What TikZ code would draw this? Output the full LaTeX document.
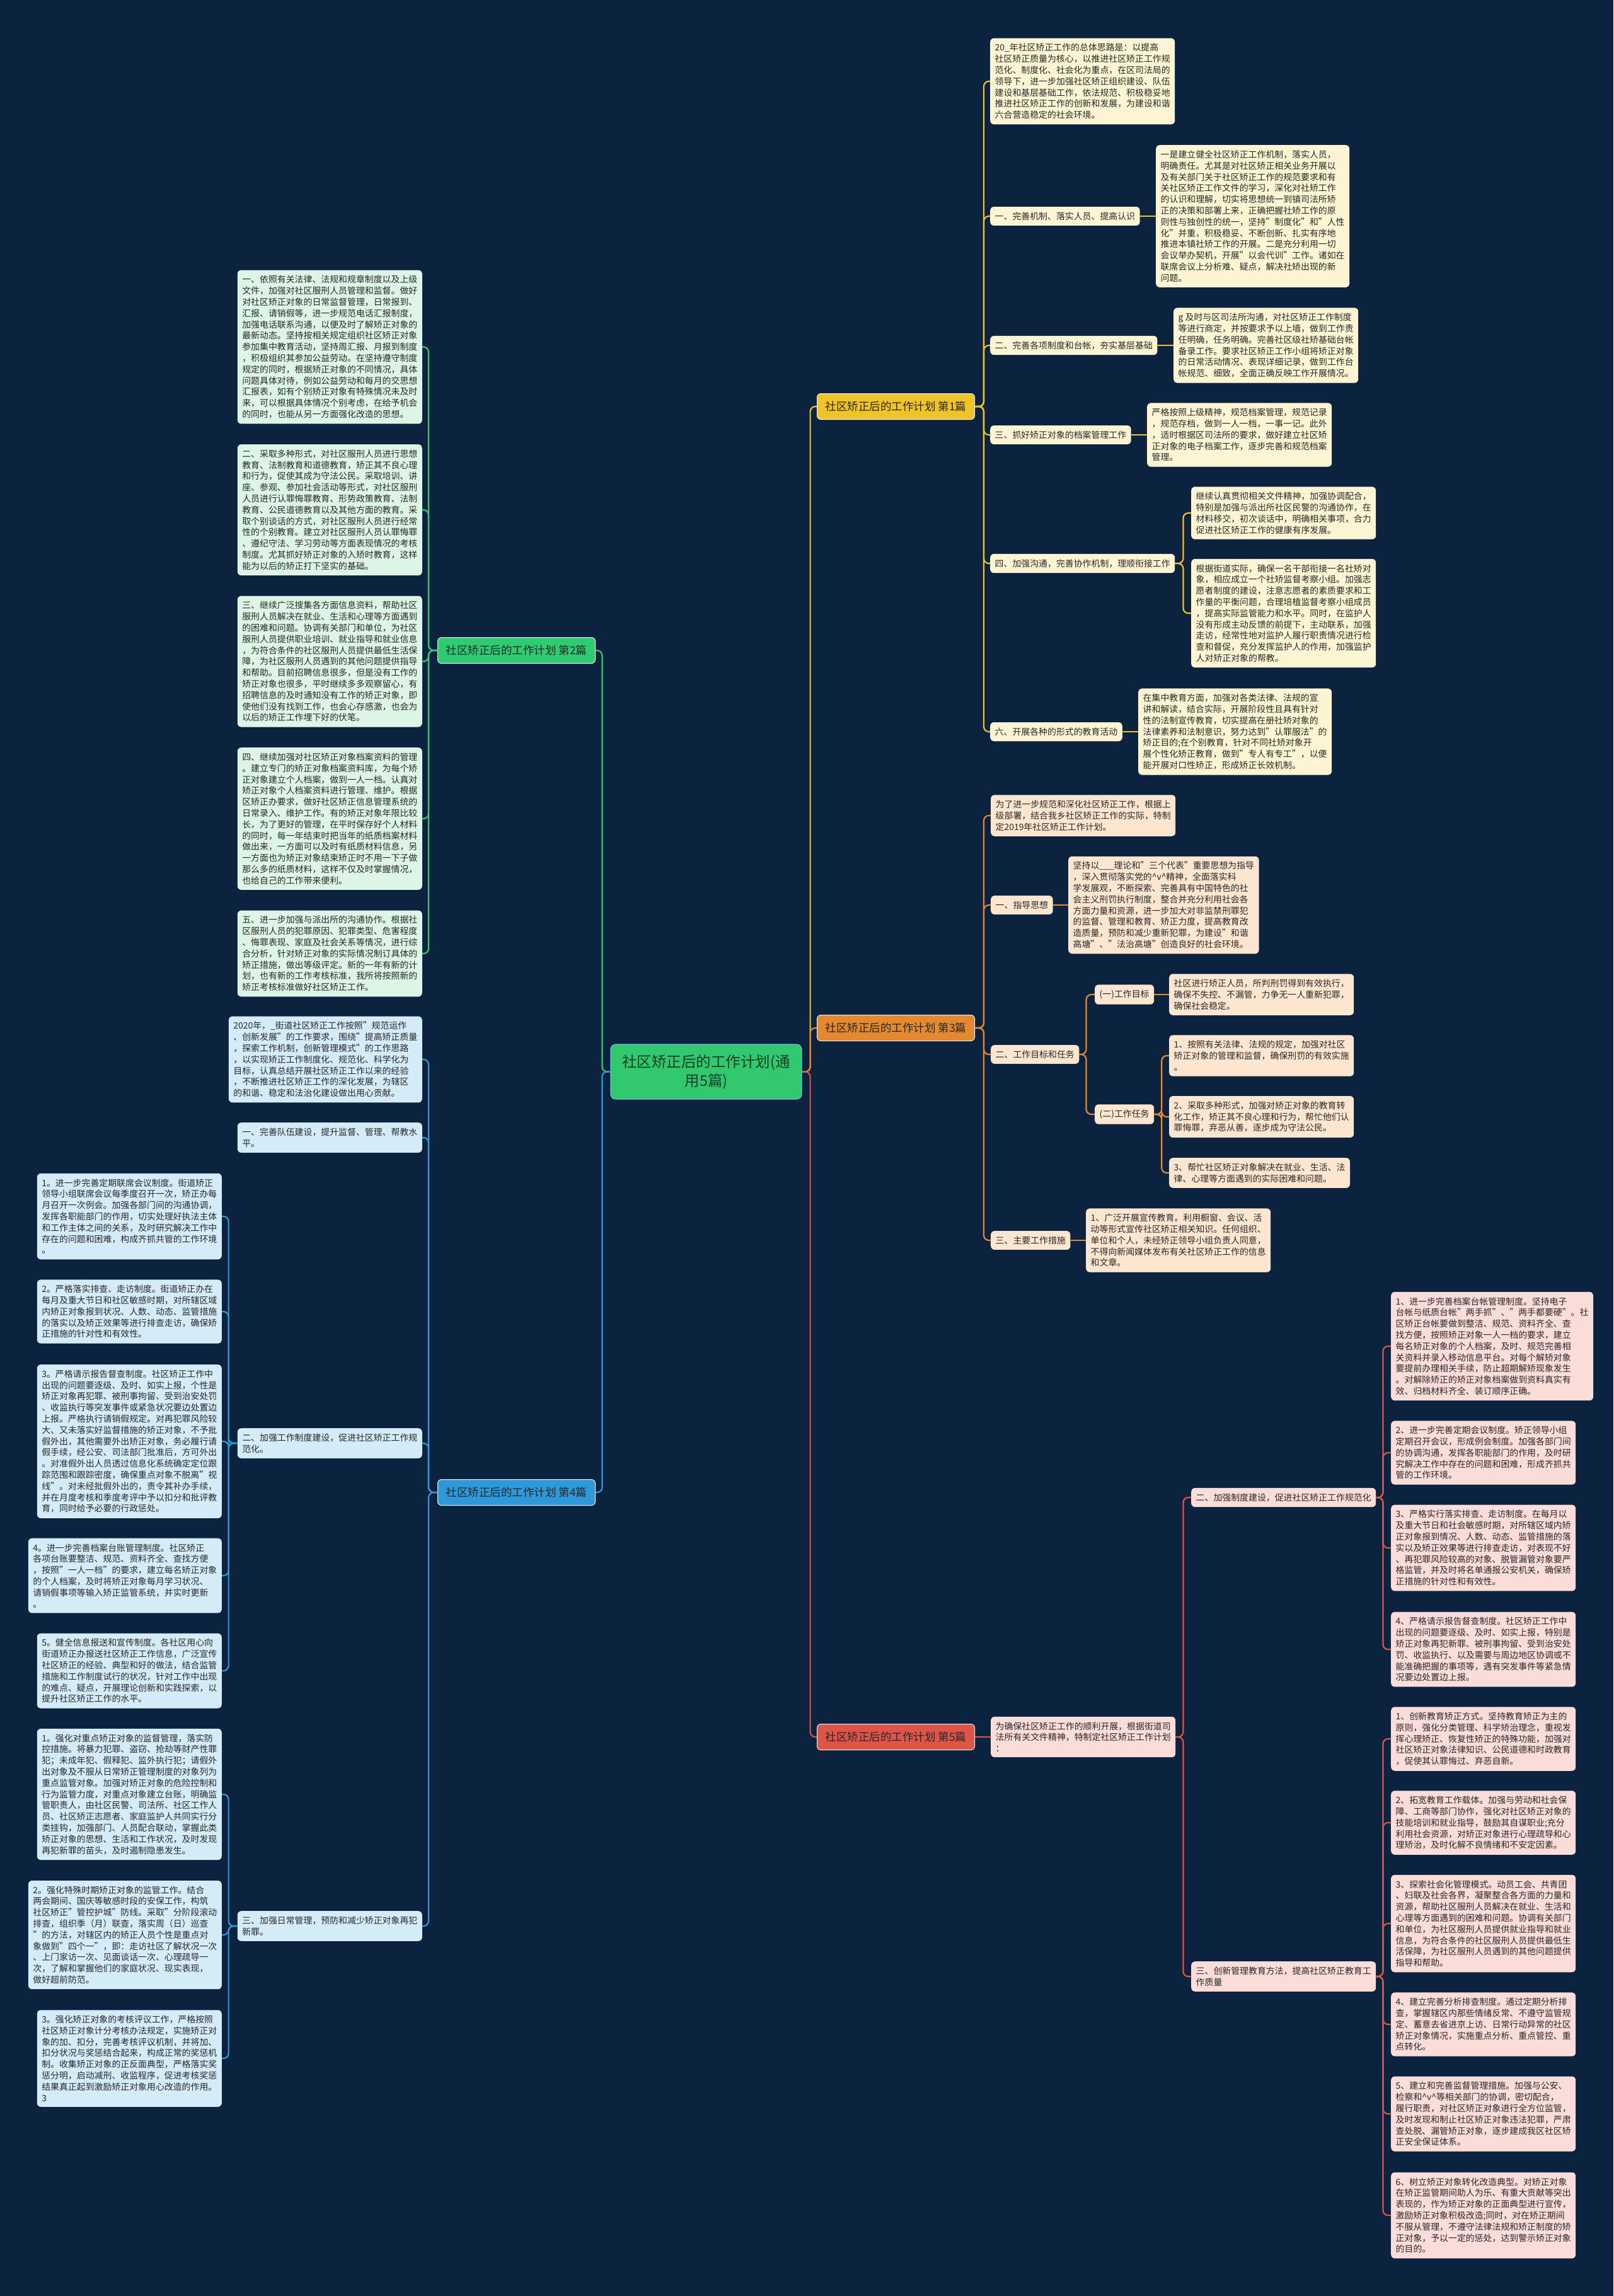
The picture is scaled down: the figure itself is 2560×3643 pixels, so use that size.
\documentclass[tikz,border=0pt]{standalone}
\usepackage{fontspec}
\setmainfont{Noto Sans CJK SC}
\usetikzlibrary{calc}
\definecolor{bgnavy}{RGB}{12,35,64}
\definecolor{rootgreen}{RGB}{50,200,110}
\definecolor{rootink}{RGB}{25,62,40}
\definecolor{ink}{RGB}{40,40,40}
\definecolor{yelline}{RGB}{240,196,40}
\definecolor{yelbox}{RGB}{252,244,210}
\definecolor{grnline}{RGB}{46,204,113}
\definecolor{grnbox}{RGB}{220,245,228}
\definecolor{orgline}{RGB}{228,137,48}
\definecolor{orgbox}{RGB}{252,230,208}
\definecolor{bluline}{RGB}{45,152,218}
\definecolor{blubox}{RGB}{212,235,248}
\definecolor{redline}{RGB}{222,84,72}
\definecolor{redbox}{RGB}{250,220,216}

\tikzset{
  leaf/.style={rounded corners=6pt, inner xsep=7.5pt, inner ysep=8.5pt,
    align=left, text=ink, font=\fontsize{13.9}{17.8}\selectfont},
  topic/.style={rounded corners=6pt, minimum width=250pt, minimum height=41pt,
    inner sep=0pt, draw=white!85!gray, line width=1pt, text=ink,
    font=\fontsize{17.5}{20}\selectfont},
  link/.style={line width=2.2pt, rounded corners=8pt},
}

\begin{document}
\begin{tikzpicture}[x=1pt,y=-1pt]
  % background
  \fill[bgnavy] (0,0) rectangle (2560,3643);

  % centre and the five plans
  \node[rounded corners=8pt, fill=rootgreen, draw=bluline!70!white, line width=1.2pt,
    text=rootink, align=center, minimum width=303pt, minimum height=87pt,
    font=\fontsize{23.5}{30}\selectfont] (root) at (1120.5,1700.5)
    {社区矫正后的工作计划(通\\用5篇)};
  \node[topic, fill=yelline, anchor=west] (t1) at (1296,645) {社区矫正后的工作计划 第1篇};
  \node[topic, fill=grnline, anchor=east] (t2) at (945,1032) {社区矫正后的工作计划 第2篇};
  \node[topic, fill=orgline, anchor=west] (t3) at (1296,1631) {社区矫正后的工作计划 第3篇};
  \node[topic, fill=bluline, anchor=east] (t4) at (945,2368) {社区矫正后的工作计划 第4篇};
  \node[topic, fill=redline, anchor=west] (t5) at (1296,2756) {社区矫正后的工作计划 第5篇};

  \draw[link, yelline] (root.east) -- ++(13,0) |- (t1.west);
  \draw[link, orgline] (root.east) -- ++(13,0) |- (t3.west);
  \draw[link, redline] (root.east) -- ++(13,0) |- (t5.west);
  \draw[link, grnline] (root.west) -- ++(-13,0) |- (t2.east);
  \draw[link, bluline] (root.west) -- ++(-13,0) |- (t4.east);

  % plan 1
  \begin{scope}[every node/.style={leaf, fill=yelbox, anchor=west}]
    \node (a1) at (1571,129) {20\_年社区矫正工作的总体思路是：以提高\\社区矫正质量为核心，以推进社区矫正工作规\\范化、制度化、社会化为重点，在区司法局的\\领导下，进一步加强社区矫正组织建设、队伍\\建设和基层基础工作，依法规范、积极稳妥地\\推进社区矫正工作的创新和发展，为建设和谐\\六合营造稳定的社会环境。};
    \node (l1) at (1571,343) {一、完善机制、落实人员、提高认识};
    \node (b1) at (1834,343) {一是建立健全社区矫正工作机制，落实人员，\\明确责任。尤其是对社区矫正相关业务开展以\\及有关部门关于社区矫正工作的规范要求和有\\关社区矫正工作文件的学习，深化对社矫工作\\的认识和理解，切实将思想统一到镇司法所矫\\正的决策和部署上来，正确把握社矫工作的原\\则性与独创性的统一，坚持"制度化"和"人性\\化"并重，积极稳妥、不断创新、扎实有序地\\推进本镇社矫工作的开展。二是充分利用一切\\会议举办契机，开展"以会代训"工作。诸如在\\联席会议上分析难、疑点，解决社矫出现的新\\问题。};
    \node (l2) at (1571,548) {二、完善各项制度和台帐，夯实基层基础};
    \node (b2) at (1862,548) {g 及时与区司法所沟通，对社区矫正工作制度\\等进行商定，并按要求予以上墙，做到工作责\\任明确，任务明确。完善社区级社矫基础台帐\\备录工作。要求社区矫正工作小组将矫正对象\\的日常活动情况、表现详细记录，做到工作台\\帐规范、细致，全面正确反映工作开展情况。};
    \node (l3) at (1571,690) {三、抓好矫正对象的档案管理工作};
    \node (b3) at (1820,690) {严格按照上级精神，规范档案管理，规范记录\\，规范存档，做到一人一档，一事一记。此外\\，适时根据区司法所的要求，做好建立社区矫\\正对象的电子档案工作，逐步完善和规范档案\\管理。};
    \node (l4) at (1571,894) {四、加强沟通，完善协作机制，理顺衔接工作};
    \node (b4a) at (1890,814) {继续认真贯彻相关文件精神，加强协调配合，\\特别是加强与派出所社区民警的沟通协作，在\\材料移交，初次谈话中，明确相关事项，合力\\促进社区矫正工作的健康有序发展。};
    \node (b4b) at (1890,973) {根据街道实际，确保一名干部衔接一名社矫对\\象，相应成立一个社矫监督考察小组。加强志\\愿者制度的建设，注意志愿者的素质要求和工\\作量的平衡问题，合理培植监督考察小组成员\\，提高实际监管能力和水平。同时，在监护人\\没有形成主动反馈的前提下，主动联系，加强\\走访，经常性地对监护人履行职责情况进行检\\查和督促，充分发挥监护人的作用，加强监护\\人对矫正对象的帮教。};
    \node (l6) at (1571,1161) {六、开展各种的形式的教育活动};
    \node (b6) at (1806,1161) {在集中教育方面，加强对各类法律、法规的宣\\讲和解读，结合实际，开展阶段性且具有针对\\性的法制宣传教育，切实提高在册社矫对象的\\法律素养和法制意识，努力达到"认罪服法"的\\矫正目的;在个别教育，针对不同社矫对象开\\展个性化矫正教育，做到"专人有专工"，以便\\能开展对口性矫正，形成矫正长效机制。};
  \end{scope}
  \foreach \c in {a1,l1,l2,l3,l4,l6}
    \draw[link, yelline] (t1.east) -- ++(14,0) |- (\c.west);
  \foreach \p/\c in {l1/b1,l2/b2,l3/b3,l6/b6}
    \draw[link, yelline] (\p.east) -- (\c.west);
  \foreach \c in {b4a,b4b}
    \draw[link, yelline] (l4.east) -- ++(13,0) |- (\c.west);

  % plan 2
  \begin{scope}[every node/.style={leaf, fill=grnbox, anchor=east}]
    \node (c1) at (670,550.5) {一、依照有关法律、法规和规章制度以及上级\\文件，加强对社区服刑人员管理和监督。做好\\对社区矫正对象的日常监督管理，日常报到、\\汇报、请销假等，进一步规范电话汇报制度，\\加强电话联系沟通，以便及时了解矫正对象的\\最新动态。坚持按相关规定组织社区矫正对象\\参加集中教育活动，坚持周汇报、月报到制度\\，积极组织其参加公益劳动。在坚持遵守制度\\规定的同时，根据矫正对象的不同情况，具体\\问题具体对待，例如公益劳动和每月的交思想\\汇报表，如有个别矫正对象有特殊情况未及时\\来，可以根据具体情况个别考虑，在给予机会\\的同时，也能从另一方面强化改造的思想。};
    \node (c2) at (670,809) {二、采取多种形式，对社区服刑人员进行思想\\教育、法制教育和道德教育，矫正其不良心理\\和行为，促使其成为守法公民。采取培训、讲\\座、参观、参加社会活动等形式，对社区服刑\\人员进行认罪悔罪教育、形势政策教育、法制\\教育、公民道德教育以及其他方面的教育。采\\取个别谈话的方式，对社区服刑人员进行经常\\性的个别教育。建立对社区服刑人员认罪悔罪\\、遵纪守法、学习劳动等方面表现情况的考核\\制度。尤其抓好矫正对象的入矫时教育，这样\\能为以后的矫正打下坚实的基础。};
    \node (c3) at (670,1049.5) {三、继续广泛搜集各方面信息资料，帮助社区\\服刑人员解决在就业、生活和心理等方面遇到\\的困难和问题。协调有关部门和单位，为社区\\服刑人员提供职业培训、就业指导和就业信息\\，为符合条件的社区服刑人员提供最低生活保\\障，为社区服刑人员遇到的其他问题提供指导\\和帮助。目前招聘信息很多，但是没有工作的\\矫正对象也很多，平时继续多多观察留心，有\\招聘信息的及时通知没有工作的矫正对象，即\\使他们没有找到工作，也会心存感激，也会为\\以后的矫正工作埋下好的伏笔。};
    \node (c4) at (670,1299) {四、继续加强对社区矫正对象档案资料的管理\\。建立专门的矫正对象档案资料库，为每个矫\\正对象建立个人档案，做到一人一档。认真对\\矫正对象个人档案资料进行管理、维护。根据\\区矫正办要求，做好社区矫正信息管理系统的\\日常录入、维护工作。有的矫正对象年限比较\\长，为了更好的管理，在平时保存好个人材料\\的同时，每一年结束时把当年的纸质档案材料\\做出来，一方面可以及时有纸质材料信息，另\\一方面也为矫正对象结束矫正时不用一下子做\\那么多的纸质材料，这样不仅及时掌握情况，\\也给自己的工作带来便利。};
    \node (c5) at (670,1513) {五、进一步加强与派出所的沟通协作。根据社\\区服刑人员的犯罪原因、犯罪类型、危害程度\\、悔罪表现、家庭及社会关系等情况，进行综\\合分析，针对矫正对象的实际情况制订具体的\\矫正措施，做出等级评定。新的一年有新的计\\划，也有新的工作考核标准，我所将按照新的\\矫正考核标准做好社区矫正工作。};
  \end{scope}
  \foreach \c in {c1,c2,c3,c4,c5}
    \draw[link, grnline] (t2.west) -- ++(-14,0) |- (\c.east);

  % plan 3
  \begin{scope}[every node/.style={leaf, fill=orgbox, anchor=west}]
    \node (a3) at (1572,1294) {为了进一步规范和深化社区矫正工作，根据上\\级部署，结合我乡社区矫正工作的实际，特制\\定2019年社区矫正工作计划。};
    \node (m1) at (1572,1436) {一、指导思想};
    \node (n1) at (1695,1436) {坚持以\_\_\_理论和"三个代表"重要思想为指导\\，深入贯彻落实党的\textasciicircum v\textasciicircum 精神，全面落实科\\学发展观，不断探索、完善具有中国特色的社\\会主义刑罚执行制度，整合并充分利用社会各\\方面力量和资源，进一步加大对非监禁刑罪犯\\的监督、管理和教育、矫正力度，提高教育改\\造质量，预防和减少重新犯罪，为建设"和谐\\高塘"、"法治高塘"创造良好的社会环境。};
    \node (m2) at (1572,1673) {二、工作目标和任务};
    \node (m2a) at (1737,1578) {(一)工作目标};
    \node (p1) at (1855,1578) {社区进行矫正人员，所判刑罚得到有效执行，\\确保不失控、不漏管，力争无一人重新犯罪，\\确保社会稳定。};
    \node (m2b) at (1737,1768) {(二)工作任务};
    \node (q1) at (1855,1675) {1、按照有关法律、法规的规定，加强对社区\\矫正对象的管理和监督，确保刑罚的有效实施\\。};
    \node (q2) at (1855,1772) {2、采取多种形式，加强对矫正对象的教育转\\化工作，矫正其不良心理和行为，帮忙他们认\\罪悔罪，弃恶从善，逐步成为守法公民。};
    \node (q3) at (1855,1861) {3、帮忙社区矫正对象解决在就业、生活、法\\律、心理等方面遇到的实际困难和问题。};
    \node (m3) at (1572,1968) {三、主要工作措施};
    \node (n3) at (1723,1968) {1、广泛开展宣传教育。利用橱窗、会议、活\\动等形式宣传社区矫正相关知识。任何组织、\\单位和个人，未经矫正领导小组负责人同意，\\不得向新闻媒体发布有关社区矫正工作的信息\\和文章。};
  \end{scope}
  \foreach \c in {a3,m1,m2,m3}
    \draw[link, orgline] (t3.east) -- ++(14,0) |- (\c.west);
  \foreach \p/\c in {m1/n1,m2a/p1,m3/n3}
    \draw[link, orgline] (\p.east) -- (\c.west);
  \foreach \c in {m2a,m2b}
    \draw[link, orgline] (m2.east) -- ++(11,0) |- (\c.west);
  \foreach \c in {q1,q2,q3}
    \draw[link, orgline] (m2b.east) -- ++(12,0) |- (\c.west);

  % plan 4
  \begin{scope}[every node/.style={leaf, fill=blubox, anchor=east}]
    \node (d0) at (670,1681) {2020年，\_街道社区矫正工作按照"规范运作\\、创新发展"的工作要求，围绕"提高矫正质量\\，探索工作机制，创新管理模式"的工作思路\\，以实现矫正工作制度化、规范化、科学化为\\目标，认真总结开展社区矫正工作以来的经验\\，不断推进社区矫正工作的深化发展，为辖区\\的和谐、稳定和法治化建设做出用心贡献。};
    \node (d1) at (670,1805) {一、完善队伍建设，提升监督、管理、帮教水\\平。};
    \node (k2) at (670,2290) {二、加强工作制度建设，促进社区矫正工作规\\范化。};
    \node (k3) at (670,3056) {三、加强日常管理，预防和减少矫正对象再犯\\新罪。};
    \node (e1) at (352,1930) {1。进一步完善定期联席会议制度。街道矫正\\领导小组联席会议每季度召开一次，矫正办每\\月召开一次例会。加强各部门间的沟通协调，\\发挥各职能部门的作用，切实处理好执法主体\\和工作主体之间的关系，及时研究解决工作中\\存在的问题和困难，构成齐抓共管的工作环境\\。};
    \node (e2) at (352,2081) {2。严格落实排查、走访制度。街道矫正办在\\每月及重大节日和社区敏感时期，对所辖区域\\内矫正对象报到状况、人数、动态、监管措施\\的落实以及矫正效果等进行排查走访，确保矫\\正措施的针对性和有效性。};
    \node (e3) at (352,2287) {3。严格请示报告督查制度。社区矫正工作中\\出现的问题要逐级、及时、如实上报，个性是\\矫正对象再犯罪、被刑事拘留、受到治安处罚\\、收监执行等突发事件或紧急状况要边处置边\\上报。严格执行请销假规定。对再犯罪风险较\\大、又未落实好监督措施的矫正对象，不予批\\假外出，其他需要外出矫正对象，务必履行请\\假手续，经公安、司法部门批准后，方可外出\\。对准假外出人员透过信息化系统确定定位跟\\踪范围和跟踪密度，确保重点对象不脱离"视\\线"。对未经批假外出的，责令其补办手续，\\并在月度考核和季度考评中予以扣分和批评教\\育，同时给予必要的行政惩处。};
    \node (e4) at (352,2500) {4。进一步完善档案台账管理制度。社区矫正\\各项台账要整洁、规范、资料齐全、查找方便\\，按照"一人一档"的要求，建立每名矫正对象\\的个人档案，及时将矫正对象每月学习状况、\\请销假事项等输入矫正监管系统，并实时更新\\。};
    \node (e5) at (352,2651) {5。健全信息报送和宣传制度。各社区用心向\\街道矫正办报送社区矫正工作信息，广泛宣传\\社区矫正的经验、典型和好的做法，结合监管\\措施和工作制度试行的状况，针对工作中出现\\的难点、疑点，开展理论创新和实践探索，以\\提升社区矫正工作的水平。};
    \node (f1) at (352,2847) {1。强化对重点矫正对象的监督管理，落实防\\控措施。将暴力犯罪、盗窃、抢劫等财产性罪\\犯；未成年犯、假释犯、监外执行犯；请假外\\出对象及不服从日常矫正管理制度的对象列为\\重点监管对象。加强对矫正对象的危险控制和\\行为监管力度，对重点对象建立台账，明确监\\管职责人，由社区民警、司法所、社区工作人\\员、社区矫正志愿者、家庭监护人共同实行分\\类挂钩，加强部门、人员配合联动，掌握此类\\矫正对象的思想、生活和工作状况，及时发现\\再犯新罪的苗头，及时遏制隐患发生。};
    \node (f2) at (352,3070) {2。强化特殊时期矫正对象的监管工作。结合\\两会期间、国庆等敏感时段的安保工作，构筑\\社区矫正"管控护城"防线。采取"分阶段滚动\\排查，组织季（月）联查，落实周（日）巡查\\"的方法，对辖区内的矫正人员个性是重点对\\象做到"四个一"，即：走访社区了解状况一次\\、上门家访一次、见面谈话一次、心理疏导一\\次，了解和掌握他们的家庭状况、现实表现，\\做好超前防范。};
    \node (f3) at (352,3266) {3。强化矫正对象的考核评议工作，严格按照\\社区矫正对象计分考核办法规定，实施矫正对\\象的加、扣分，完善考核评议机制，并将加、\\扣分状况与奖惩结合起来，构成正常的奖惩机\\制。收集矫正对象的正反面典型，严格落实奖\\惩分明，启动减刑、收监程序，促进考核奖惩\\结果真正起到激励矫正对象用心改造的作用。\\3};
  \end{scope}
  \foreach \c in {d0,d1,k2,k3}
    \draw[link, bluline] (t4.west) -- ++(-14,0) |- (\c.east);
  \foreach \c in {e1,e2,e3,e4,e5}
    \draw[link, bluline] (k2.west) -- ++(-14,0) |- (\c.east);
  \foreach \c in {f1,f2,f3}
    \draw[link, bluline] (k3.west) -- ++(-14,0) |- (\c.east);

  % plan 5
  \begin{scope}[every node/.style={leaf, fill=redbox, anchor=west}]
    \node (a5) at (1572,2756) {为确保社区矫正工作的顺利开展，根据街道司\\法所有关文件精神，特制定社区矫正工作计划\\：};
    \node (r2) at (1890,2376) {二、加强制度建设，促进社区矫正工作规范化};
    \node (r3) at (1890,3136) {三、创新管理教育方法，提高社区矫正教育工\\作质量};
    \node (g1) at (2207,2136) {1、进一步完善档案台帐管理制度。坚持电子\\台帐与纸质台帐"两手抓"、"两手都要硬"。社\\区矫正台帐要做到整洁、规范、资料齐全、查\\找方便，按照矫正对象一人一档的要求，建立\\每名矫正对象的个人档案，及时、规范完善相\\关资料并录入移动信息平台。对每个解矫对象\\要提前办理相关手续，防止超期解矫现象发生\\。对解除矫正的矫正对象档案做到资料真实有\\效、归档材料齐全、装订顺序正确。};
    \node (g2) at (2207,2305) {2、进一步完善定期会议制度。矫正领导小组\\定期召开会议，形成例会制度。加强各部门间\\的协调沟通，发挥各职能部门的作用，及时研\\究解决工作中存在的问题和困难，形成齐抓共\\管的工作环境。};
    \node (g3) at (2207,2456) {3、严格实行落实排查、走访制度。在每月以\\及重大节日和社会敏感时期，对所辖区域内矫\\正对象报到情况、人数、动态、监管措施的落\\实以及矫正效果等进行排查走访，对表现不好\\、再犯罪风险较高的对象、脱管漏管对象要严\\格监管，并及时将名单通报公安机关，确保矫\\正措施的针对性和有效性。};
    \node (g4) at (2207,2617) {4、严格请示报告督查制度。社区矫正工作中\\出现的问题要逐级、及时、如实上报，特别是\\矫正对象再犯新罪、被刑事拘留、受到治安处\\罚、收监执行、以及需要与周边地区协调或不\\能准确把握的事项等，遇有突发事件等紧急情\\况要边处置边上报。};
    \node (h1) at (2207,2759) {1、创新教育矫正方式。坚持教育矫正为主的\\原则，强化分类管理、科学矫治理念，重视发\\挥心理矫正、恢复性矫正的特殊功能，加强对\\社区矫正对象法律知识、公民道德和时政教育\\，促使其认罪悔过、弃恶自新。};
    \node (h2) at (2207,2892) {2、拓宽教育工作载体。加强与劳动和社会保\\障、工商等部门协作，强化对社区矫正对象的\\技能培训和就业指导，鼓励其自谋职业;充分\\利用社会资源，对矫正对象进行心理疏导和心\\理矫治，及时化解不良情绪和不安定因素。};
    \node (h3) at (2207,3052) {3、探索社会化管理模式。动员工会、共青团\\、妇联及社会各界，凝聚整合各方面的力量和\\资源，帮助社区服刑人员解决在就业、生活和\\心理等方面遇到的困难和问题。协调有关部门\\和单位，为社区服刑人员提供就业指导和就业\\信息，为符合条件的社区服刑人员提供最低生\\活保障，为社区服刑人员遇到的其他问题提供\\指导和帮助。};
    \node (h4) at (2207,3212) {4、建立完善分析排查制度。通过定期分析排\\查，掌握辖区内那些情绪反常、不遵守监管规\\定、蓄意去省进京上访、日常行动异常的社区\\矫正对象情况，实施重点分析、重点管控、重\\点转化。};
    \node (h5) at (2207,3354) {5、建立和完善监督管理措施。加强与公安、\\检察和\textasciicircum v\textasciicircum 等相关部门的协调，密切配合，\\履行职责，对社区矫正对象进行全方位监管，\\及时发现和制止社区矫正对象违法犯罪，严肃\\查处脱、漏管矫正对象，逐步建成我区社区矫\\正安全保证体系。};
    \node (h6) at (2207,3515) {6、树立矫正对象转化改造典型。对矫正对象\\在矫正监管期间助人为乐、有重大贡献等突出\\表现的，作为矫正对象的正面典型进行宣传，\\激励矫正对象积极改造;同时，对在矫正期间\\不服从管理，不遵守法律法规和矫正制度的矫\\正对象，予以一定的惩处，达到警示矫正对象\\的目的。};
  \end{scope}
  \draw[link, redline] (t5.east) -- (a5.west);
  \foreach \c in {r2,r3}
    \draw[link, redline] (a5.east) -- ++(12,0) |- (\c.west);
  \foreach \c in {g1,g2,g3,g4}
    \draw[link, redline] (r2.east) -- ++(11,0) |- (\c.west);
  \foreach \c in {h1,h2,h3,h4,h5,h6}
    \draw[link, redline] (r3.east) -- ++(11,0) |- (\c.west);
\end{tikzpicture}
\end{document}
